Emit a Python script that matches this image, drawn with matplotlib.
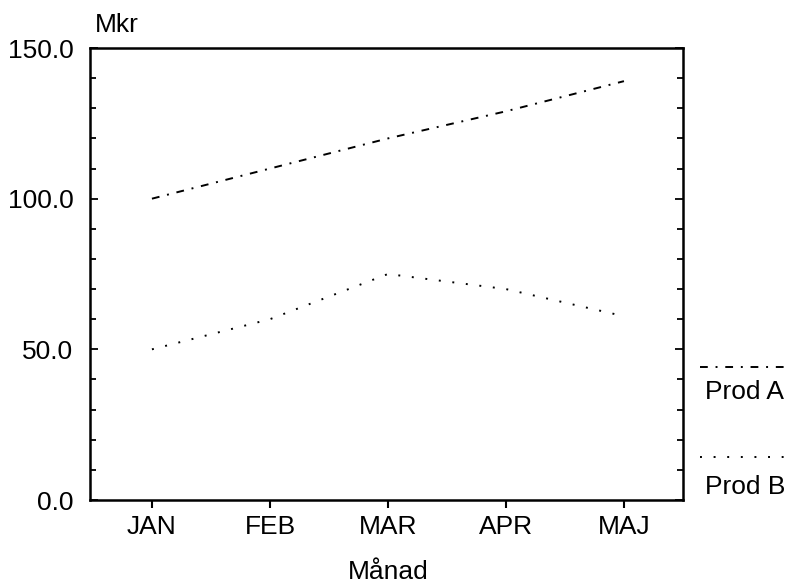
import numpy as np
import matplotlib.pyplot as plt
from matplotlib.lines import Line2D

plt.rcParams['font.family'] = ['Liberation Sans', 'DejaVu Sans']

# Data
months = ["JAN", "FEB", "MAR", "APR", "MAJ"]
prod_a = [100, 110, 120, 129, 139]
prod_b = [50, 60, 75, 70, 61]

fs = 19

fig = plt.figure(figsize=(7.9, 5.87), dpi=100)
ax = fig.add_axes([0.1139, 0.1482, 0.7506, 0.770])

x = np.arange(len(months))
ax.plot(x, prod_a, color="black", lw=1.4, linestyle=(0, (4, 4, 1, 4)))
ax.plot(x, prod_b, color="black", lw=1.4, linestyle=(0, (1, 6)))

ax.set_xlim(-0.525, 4.5)
ax.set_ylim(0, 150)
ax.set_xticks(x)
ax.set_xticklabels(months)
ax.set_yticks([0, 50, 100, 150])
ax.set_yticklabels(["0.0", "50.0", "100.0", "150.0"])
ax.set_yticks(np.arange(10, 150, 10), minor=True)

ax.tick_params(axis="x", direction="out", length=6, width=1.5, labelsize=fs, pad=5)
ax.tick_params(axis="y", which="major", direction="in", length=6, width=1.3,
               labelsize=fs, right=True, pad=12)
ax.tick_params(axis="y", which="minor", direction="in", length=4, width=1.3, right=True)

for s in ax.spines.values():
    s.set_linewidth(1.8)

fig.text(0.120, 0.957, "Mkr", fontsize=fs, ha="left", va="center")
fig.text(0.491, 1 - 579 / 587, "Månad", fontsize=fs, ha="center", va="baseline")

# legend outside the axes on the right
fig.add_artist(Line2D([0.886, 0.998], [1 - 367 / 587] * 2, transform=fig.transFigure,
                      color="black", lw=1.4, linestyle=(0, (4, 4, 1, 4))))
fig.text(0.943, 1 - 392 / 587, "Prod A", fontsize=fs, ha="center", va="center")
fig.add_artist(Line2D([0.886, 0.998], [1 - 457 / 587] * 2, transform=fig.transFigure,
                      color="black", lw=1.4, linestyle=(0, (1, 6))))
fig.text(0.943, 1 - 487 / 587, "Prod B", fontsize=fs, ha="center", va="center")

fig.savefig("out.png", dpi=100)
